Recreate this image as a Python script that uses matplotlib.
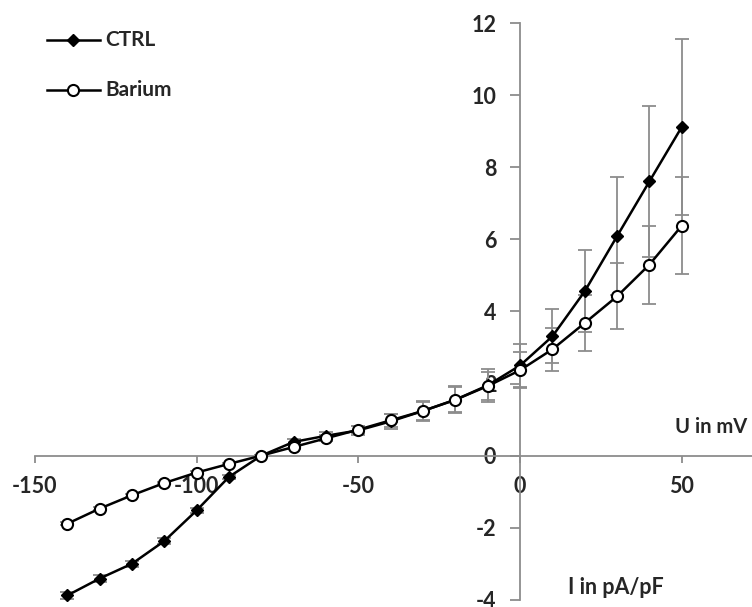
import matplotlib
matplotlib.use("Agg")
import matplotlib.pyplot as plt

# membrane potential steps (mV)
voltage = [-140, -130, -120, -110, -100, -90, -80, -70, -60, -50,
           -40, -30, -20, -10, 0, 10, 20, 30, 40, 50]

ctrl = [-3.88, -3.41, -3.00, -2.37, -1.52, -0.59, 0.0, 0.38, 0.55, 0.70,
        0.95, 1.24, 1.55, 1.95, 2.50, 3.31, 4.56, 6.09, 7.61, 9.12]
ctrl_err = [0.10, 0.10, 0.08, 0.08, 0.06, 0.05, 0.03, 0.08, 0.10, 0.12,
            0.20, 0.28, 0.37, 0.45, 0.60, 0.75, 1.14, 1.64, 2.09, 2.45]

barium = [-1.89, -1.47, -1.10, -0.76, -0.47, -0.23, 0.0, 0.24, 0.48, 0.72,
          0.98, 1.24, 1.55, 1.93, 2.37, 2.95, 3.68, 4.42, 5.30, 6.38]
barium_err = [0.04, 0.04, 0.04, 0.04, 0.03, 0.03, 0.02, 0.06, 0.08, 0.10,
              0.18, 0.26, 0.35, 0.40, 0.50, 0.60, 0.78, 0.92, 1.08, 1.35]

x_ticks = [-150, -100, -50, 0, 50]
y_ticks = [-4, -2, 0, 2, 4, 6, 8, 10, 12]

plt.rcParams['font.family'] = ['Lato', 'DejaVu Sans']
plt.rcParams['font.weight'] = 'bold'
plt.rcParams['axes.unicode_minus'] = False
grey = '#8c8c8c'
txt = '#262626'

fig = plt.figure(figsize=(7.52, 6.07), dpi=100)
ax = fig.add_axes([0, 0, 1, 1])
ax.set_xlim(-160.8, 71.7)
ax.set_ylim(-4.2, 12.64)

ax.errorbar(voltage, ctrl, yerr=ctrl_err, fmt='none', ecolor=grey,
            elinewidth=1.3, capsize=5, capthick=1.3, zorder=2)
ax.errorbar(voltage, barium, yerr=barium_err, fmt='none', ecolor=grey,
            elinewidth=1.3, capsize=5, capthick=1.3, zorder=2)
ax.plot(voltage, ctrl, color='black', lw=1.8, marker='D', ms=6,
        mfc='black', mec='black', zorder=3)
ax.plot(voltage, barium, color='black', lw=1.8, marker='o', ms=8,
        mfc='white', mec='black', mew=1.5, zorder=4)

for s in ['top', 'right']:
    ax.spines[s].set_visible(False)
ax.spines['left'].set_position(('data', 0))
ax.spines['bottom'].set_position(('data', 0))
ax.spines['left'].set_bounds(-4, 12)
ax.spines['bottom'].set_bounds(-150, 71.7)
for s in ['left', 'bottom']:
    ax.spines[s].set_color(grey)
    ax.spines[s].set_linewidth(1.3)

ax.set_xticks(x_ticks)
ax.set_yticks(y_ticks)
ax.tick_params(axis='x', direction='out', length=5, width=1.3, color=grey,
               labelsize=15.5, labelcolor=txt, pad=10)
ax.tick_params(axis='y', direction='out', length=7.2, width=1.3, color=grey,
               labelsize=15.5, labelcolor=txt, pad=10)
ax.patch.set_alpha(0)

h = fig.bbox.height
ax.text(747, h - 427, 'U in mV', transform=None, ha='right', va='center',
        fontsize=14.5, color=txt)
ax.text(568, h - 587, 'I in pA/pF', transform=None, ha='left', va='center',
        fontsize=15.5, color=txt)

# legend drawn by hand in pixel space
ax.plot([47, 100], [h - 40, h - 40], transform=None, color='black', lw=1.8,
        clip_on=False)
ax.plot([73], [h - 40], transform=None, marker='D', ms=6, color='black', clip_on=False)
ax.plot([47, 100], [h - 90, h - 90], transform=None, color='black', lw=1.8, clip_on=False)
ax.plot([73], [h - 90], transform=None, marker='o', ms=8, mfc='white', mec='black',
        mew=1.5, clip_on=False)
ax.text(105, h - 40, 'CTRL', transform=None, ha='left', va='center',
        fontsize=15, color=txt)
ax.text(105, h - 90, 'Barium', transform=None, ha='left', va='center',
        fontsize=15, color=txt)

fig.savefig('out.png', dpi=100)
